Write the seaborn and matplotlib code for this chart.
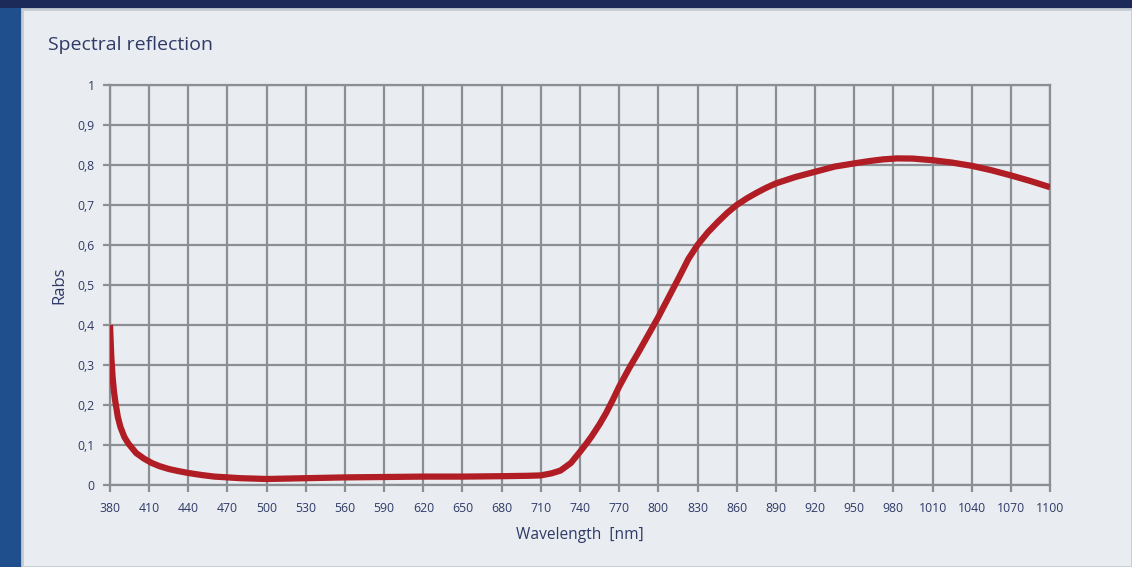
import matplotlib
matplotlib.use("Agg")
import matplotlib.pyplot as plt
import seaborn as sns
import pandas as pd
from matplotlib.patches import Rectangle

# Data
wavelength = [380, 381, 382, 383, 384, 386, 388, 391, 394, 400, 406, 412, 418, 425, 432, 440, 450,
              460, 480, 500, 530, 560, 590, 620, 650, 680, 700, 710, 718, 725, 733, 740, 745, 749,
              755, 760, 765, 770, 778, 785, 790, 800, 808, 816, 823, 830, 838, 846, 853, 860, 868,
              875, 882, 890, 905, 920, 935, 950, 962, 972, 983, 995, 1010, 1025, 1040, 1055, 1070,
              1085, 1100]
rabs = [0.40, 0.32, 0.27, 0.235, 0.21, 0.17, 0.145, 0.12, 0.104, 0.08, 0.066, 0.055, 0.047, 0.04,
        0.035, 0.03, 0.025, 0.021, 0.017, 0.015, 0.017, 0.019, 0.020, 0.021, 0.021, 0.022, 0.023,
        0.024, 0.029, 0.036, 0.055, 0.083, 0.104, 0.122, 0.152, 0.18, 0.212, 0.246, 0.294, 0.333,
        0.362, 0.42, 0.47, 0.52, 0.565, 0.60, 0.632, 0.659, 0.681, 0.70, 0.717, 0.73, 0.742, 0.754,
        0.77, 0.783, 0.796, 0.804, 0.81, 0.814, 0.8165, 0.816, 0.812, 0.806, 0.798, 0.787, 0.774,
        0.76, 0.7445]
x_ticks = list(range(380, 1101, 30))
y_ticks = [0, 0.1, 0.2, 0.3, 0.4, 0.5, 0.6, 0.7, 0.8, 0.9, 1]
y_tick_labels = ["0", "0,1", "0,2", "0,3", "0,4", "0,5", "0,6", "0,7", "0,8", "0,9", "1"]
title = "Spectral reflection"
x_label = "Wavelength  [nm]"
y_label = "Rabs"

df = pd.DataFrame({"wavelength": wavelength, "rabs": rabs})

sns.set_theme(style="white")
plt.rcParams['font.family'] = ['Open Sans', 'DejaVu Sans']

text_col = "#2f3a67"
grid_col = "#8b8f94"
line_col = "#b01d24"
panel_col = "#e9edf1"

fig = plt.figure(figsize=(11.32, 5.67), dpi=100)
fig.patch.set_facecolor("#1f4f8d")
# top dark strip and light panel
fig.patches.append(Rectangle((0, 1 - 8 / 567), 1, 8 / 567, transform=fig.transFigure,
                             facecolor="#1b2a58", edgecolor="none", zorder=-2))
fig.patches.append(Rectangle((22 / 1132, 0), 1 - 22 / 1132, 1 - 9 / 567, transform=fig.transFigure,
                             facecolor=panel_col, edgecolor="#c5cbd2", linewidth=2, zorder=-1))

ax = fig.add_axes([110 / 1132, 1 - 485 / 567, 940 / 1132, 400 / 567])
ax.set_zorder(5)
ax.set_facecolor(panel_col)

sns.lineplot(data=df, x="wavelength", y="rabs", ax=ax, color=line_col, linewidth=4.5,
             solid_capstyle="butt", solid_joinstyle="round", zorder=3)

ax.set_xlim(380, 1100)
ax.set_ylim(0, 1)
ax.set_xticks(x_ticks)
ax.set_xticklabels([str(t) for t in x_ticks])
ax.set_yticks(y_ticks)
ax.set_yticklabels(y_tick_labels)
ax.grid(True, color=grid_col, linewidth=1.6)
ax.set_axisbelow(True)
for s in ax.spines.values():
    s.set_color(grid_col)
    s.set_linewidth(1.6)
ax.tick_params(axis="both", which="both", length=5, width=1.6, color=grid_col,
               labelcolor=text_col, labelsize=8.8, direction="out")
ax.tick_params(axis="x", pad=7)
ax.tick_params(axis="y", pad=6)
ax.tick_params(bottom=True, left=True)
ax.set_xlabel(x_label, color=text_col, fontsize=11.2, labelpad=9)
ax.set_ylabel(y_label, color=text_col, fontsize=12, labelpad=7)

fig.text(48 / 1132, 1 - 45 / 567, title, color=text_col, fontsize=14, ha="left", va="center")

fig.savefig("out.png", dpi=100, facecolor=fig.get_facecolor())
